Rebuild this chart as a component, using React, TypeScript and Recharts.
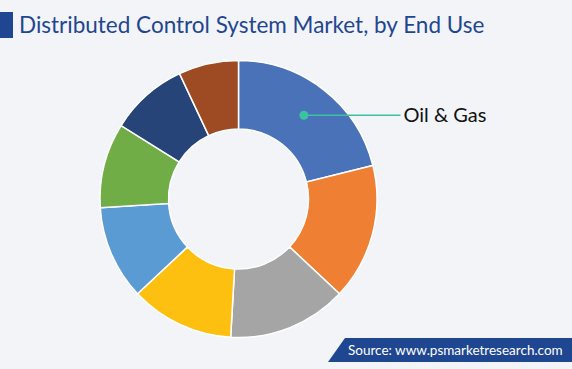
import React from 'react';
import { PieChart, Pie, Cell } from 'recharts';

// end-use segments, clockwise from 12 o'clock
const segments = ['Oil & Gas', 'Power', 'Chemicals', 'Food & Beverages', 'Pharmaceuticals', 'Paper & Pulp', 'Metals & Mining', 'Others'];
const shares = [21.1, 15.9, 13.9, 12.1, 11.0, 9.9, 9.1, 7.0];
const labelled = ['Oil & Gas'];

const COLORS = ['#4a72b8', '#ee7f33', '#a5a5a5', '#fdc010', '#5b9bd4', '#70ad47', '#264478', '#9e4a22'];
const TITLE_BLUE = '#1f4690';
const LEADER = '#3cc2a0';
const FONT = 'Lato, "Open Sans", sans-serif';

const data = segments.map((name, i) => ({ name, value: shares[i] }));

const RAD = Math.PI / 180;

const renderLabel = (props: any) => {
  const { cx, cy, midAngle, innerRadius, outerRadius, index } = props;
  if (!labelled.includes(segments[index])) return null;
  const r = (innerRadius + outerRadius) / 2 + 2;
  const x = cx + r * Math.cos(-midAngle * RAD);
  const y = cy + r * Math.sin(-midAngle * RAD);
  const lineEnd = cx + 162;
  return (
    <g>
      <circle cx={x} cy={y} r={4.5} fill={LEADER} />
      <line x1={x} y1={y} x2={lineEnd} y2={y} stroke={LEADER} strokeWidth={1.5} />
      <text x={lineEnd + 3} y={y} dy={6.5} fill="#111" fontSize={20} fontFamily={FONT}>
        {segments[index]}
      </text>
    </g>
  );
};

const App: React.FC = () => {
  return (
    <div style={{ position: 'absolute', left: 0, top: 0, width: 572, height: 369, background: '#f2f4f8', overflow: 'hidden', fontFamily: FONT }}>
      <div style={{ position: 'absolute', left: 0, top: 12, width: 13, height: 26, background: TITLE_BLUE }} />
      <div style={{ position: 'absolute', left: 19, top: 9, fontSize: 22.5, color: TITLE_BLUE, whiteSpace: 'nowrap', lineHeight: '32px' }}>
        Distributed Control System Market, by End Use
      </div>

      <PieChart width={572} height={369} margin={{ top: 0, right: 0, bottom: 0, left: 0 }} style={{ position: 'absolute', left: 0, top: 0 }}>
        <Pie
          data={data}
          dataKey="value"
          nameKey="name"
          cx={238.5}
          cy={199}
          innerRadius={70}
          outerRadius={138.5}
          startAngle={90}
          endAngle={-270}
          stroke="#ffffff"
          strokeWidth={1.5}
          label={renderLabel}
          labelLine={false}
          isAnimationActive={false}
        >
          {data.map((d, i) => (
            <Cell key={d.name} fill={COLORS[i % COLORS.length]} />
          ))}
        </Pie>
      </PieChart>

      <svg width={572} height={369} style={{ position: 'absolute', left: 0, top: 0, pointerEvents: 'none' }}>
        <polygon points="345,338 572,338 572,362 328,362" fill={TITLE_BLUE} />
        <text x={348} y={355} fill="#ffffff" fontSize={13.5} fontFamily={FONT}>
          Source: www.psmarketresearch.com
        </text>
      </svg>
    </div>
  );
};

export default App;
